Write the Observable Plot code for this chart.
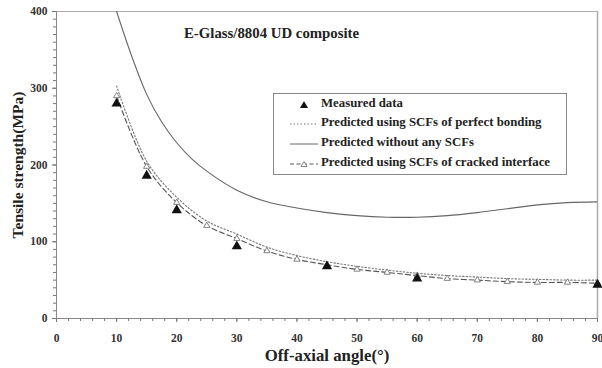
<!DOCTYPE html>
<html><head><meta charset="utf-8">
<script src="https://cdn.jsdelivr.net/npm/d3@7"></script>
<script src="https://cdn.jsdelivr.net/npm/@observablehq/plot@0.6"></script>
<style>
body{margin:0;background:#fff;font-family:"Liberation Serif","DejaVu Serif",serif;}
#wrap{position:relative;width:602px;height:368px;}
#title{position:absolute;left:184px;top:25px;font-weight:bold;font-size:14.8px;color:#222;white-space:nowrap;}
#legend{position:absolute;left:273px;top:93px;width:294px;height:82px;border:1px solid #888;box-sizing:border-box;background:#fff;}
#legend .row{position:absolute;left:0;height:14px;font-weight:bold;font-size:12.8px;color:#222;white-space:nowrap;}
#legend svg{position:absolute;left:14px;top:0;}
#legend span{position:absolute;left:47px;top:-2px;}
</style></head><body>
<div id="wrap"></div>
<script>
const measuredAngle = [10, 15, 20, 30, 45, 60, 90];
const measuredStrength = [280, 186, 141, 94, 68, 52, 44];

const noScfAngle = [10, 12.5, 15, 17.5, 20, 22.5, 25, 30, 35, 40, 45, 50, 55, 60, 65, 70, 75, 80, 85, 90];
const noScfStrength = [400, 342, 292, 256, 229, 208, 192, 167, 152, 144, 138, 134, 132, 132, 134, 138, 143, 148, 151, 152];

const perfectAngle = [10, 15, 20, 25, 30, 35, 40, 45, 50, 55, 60, 65, 70, 75, 80, 85, 90];
const perfectStrength = [303, 205, 158, 127, 110, 93, 82, 74, 68, 63, 59, 56, 54, 52, 51, 50, 50];

const crackedAngle = [10, 15, 20, 25, 30, 35, 40, 45, 50, 55, 60, 65, 70, 75, 80, 85, 90];
const crackedStrength = [290, 198, 151, 121, 104, 88, 77, 70, 64, 60, 56, 52, 50, 48, 47, 47, 46];

const xTicks = [0, 10, 20, 30, 40, 50, 60, 70, 80, 90];
const yTicks = [0, 100, 200, 300, 400];

const legendItems = ["Measured data", "Predicted using SCFs of perfect bonding", "Predicted without any SCFs", "Predicted using SCFs of cracked interface"];

const measured = measuredAngle.map((a, i) => ({a, s: measuredStrength[i]}));
const noScf = noScfAngle.map((a, i) => ({a, s: noScfStrength[i]}));
const perfect = perfectAngle.map((a, i) => ({a, s: perfectStrength[i]}));
const cracked = crackedAngle.map((a, i) => ({a, s: crackedStrength[i]}));

const font = '"Liberation Serif", "DejaVu Serif", serif';

const chart = Plot.plot({
  width: 602, height: 368,
  marginLeft: 56, marginRight: 5, marginTop: 11, marginBottom: 50,
  style: {fontFamily: font, fontSize: "11.5px", fontWeight: "bold", color: "#333", background: "#fff"},
  x: {domain: [0, 90]},
  y: {domain: [0, 400]},
  marks: [
    Plot.ruleY([400], {stroke: "#aaa"}),
    Plot.ruleX([90], {stroke: "#aaa", strokeWidth: 1.5}),
    Plot.ruleY([0], {stroke: "#888"}),
    Plot.ruleX([0], {stroke: "#888"}),
    Plot.axisX({ticks: d3.range(0, 91, 2), tickSize: 3, tickFormat: () => "", stroke: "#777", label: null}),
    Plot.axisX({ticks: xTicks, tickSize: 4, tickPadding: 11, stroke: "#777", label: "Off-axial angle(°)", labelAnchor: "center", labelArrow: "none", labelOffset: 42}),
    Plot.axisY({ticks: d3.range(0, 401, 10), tickSize: 3, tickFormat: () => "", stroke: "#777", label: null}),
    Plot.axisY({ticks: yTicks, tickSize: 4, tickPadding: 5, stroke: "#777", label: "Tensile strength(MPa)", labelAnchor: "center", labelArrow: "none", labelOffset: 45}),
    Plot.line(noScf, {x: "a", y: "s", stroke: "#666", strokeWidth: 1.1, curve: "catmull-rom", clip: true}),
    Plot.line(perfect, {x: "a", y: "s", stroke: "#777", strokeWidth: 1.1, strokeDasharray: "1.5,2", curve: "catmull-rom"}),
    Plot.line(cracked, {x: "a", y: "s", stroke: "#555", strokeWidth: 1.1, strokeDasharray: "5,3", curve: "catmull-rom"}),
    Plot.dot(cracked, {x: "a", y: "s", symbol: "triangle", r: 2.3, stroke: "#777", fill: "#fff", strokeWidth: 0.9}),
    Plot.dot(measured, {x: "a", y: "s", symbol: "triangle", r: 3.8, fill: "#111", stroke: "none"})
  ]
});
chart.querySelectorAll('[aria-label="x-axis label"] text').forEach(t => {t.style.fontSize = "16.8px"; t.style.fill = "#222";});
chart.querySelectorAll('[aria-label="y-axis label"] text').forEach(t => {t.style.fontSize = "15.5px"; t.style.fill = "#222";});
const wrap = document.getElementById("wrap");
wrap.appendChild(chart);

const title = document.createElement("div");
title.id = "title";
title.textContent = "E-Glass/8804 UD composite";
wrap.appendChild(title);

const legend = document.createElement("div");
legend.id = "legend";
const samples = [
  '<polygon points="16,3 20,10 12,10" fill="#111"/>',
  '<line x1="2" y1="7" x2="30" y2="7" stroke="#777" stroke-dasharray="1.5,2"/>',
  '<line x1="2" y1="7" x2="30" y2="7" stroke="#666"/>',
  '<line x1="2" y1="7" x2="30" y2="7" stroke="#555" stroke-dasharray="4,2.5"/><polygon points="16,4.5 19,9.5 13,9.5" fill="#fff" stroke="#777" stroke-width="0.9"/>'
];
const rowTops = [4, 23, 43, 63];
legendItems.forEach((name, i) => {
  const row = document.createElement("div");
  row.className = "row";
  row.style.top = rowTops[i] + "px";
  row.innerHTML = `<svg width="34" height="14">${samples[i]}</svg><span>${name}</span>`;
  legend.appendChild(row);
});
wrap.appendChild(legend);
</script>
</body></html>
